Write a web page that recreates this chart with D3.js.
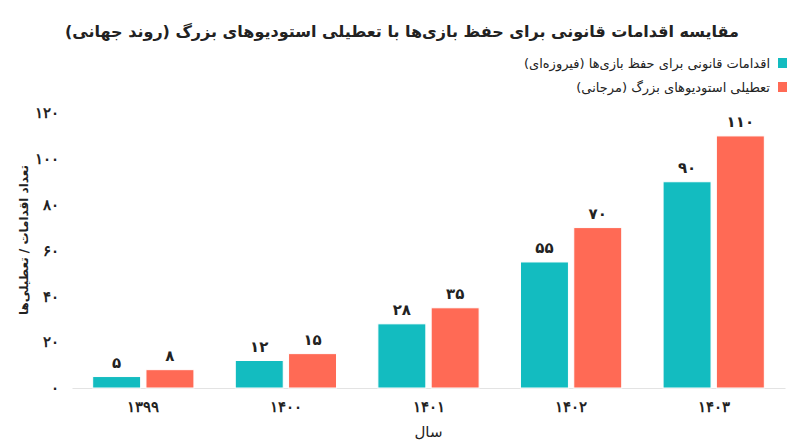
<!DOCTYPE html>
<html>
<head>
<meta charset="utf-8">
<script src="https://cdn.jsdelivr.net/npm/d3@7/dist/d3.min.js"></script>
<style>
  body { margin: 0; background: #fff; }
  svg { font-family: "DejaVu Sans", "Noto Sans", sans-serif; }
</style>
</head>
<body>
<div id="chart"></div>
<script>
//          Chart data
var years = ["۱۳۹۹", "۱۴۰۰", "۱۴۰۱", "۱۴۰۲", "۱۴۰۳"];
var legalActions = [5, 12, 28, 55, 90];
var studioClosures = [8, 15, 35, 70, 110];
var yTicks = [0, 20, 40, 60, 80, 100, 120];
var seriesNames = ["اقدامات قانونی برای حفظ بازی‌ها (فیروزه‌ای)", "تعطیلی استودیوهای بزرگ (مرجانی)"];
var seriesColors = ["#13bcc0", "#ff6a55"];

var w = 800, h = 447;
var margin = {top: 113, right: 15, bottom: 59, left: 72};

function toFa(n) {
    return n.toString().replace(/\d/g, function(d) { return "۰۱۲۳۴۵۶۷۸۹"[+d]; });
}

var svg = d3.select("#chart").append("svg")
    .attr("width", w)
    .attr("height", h);

var x0 = d3.scaleBand()
    .domain(years)
    .range([margin.left, w - margin.right])
    .paddingInner(0.29)
    .paddingOuter(0.145);

var x1 = d3.scaleBand()
    .domain([0, 1])
    .range([0, x0.bandwidth()])
    .paddingInner(0.1);

var y = d3.scaleLinear()
    .domain([0, 120])
    .range([h - margin.bottom, margin.top]);

//          Title
svg.append("text")
    .attr("x", 402)
    .attr("y", 37)
    .attr("text-anchor", "middle")
    .attr("direction", "rtl")
    .style("font-size", "16px")
    .style("font-weight", "bold")
    .style("fill", "#222")
    .text("مقایسه اقدامات قانونی برای حفظ بازی‌ها با تعطیلی استودیوهای بزرگ (روند جهانی)");

//          Legend
var legend = svg.selectAll(".legend").data(seriesNames).enter().append("g")
    .attr("class", "legend")
    .attr("transform", function(d, i) { return "translate(0," + (63 + i * 24) + ")"; });
legend.append("rect")
    .attr("x", 778).attr("y", -5)
    .attr("width", 9).attr("height", 10)
    .style("fill", function(d, i) { return seriesColors[i]; });
legend.append("text")
    .attr("x", 770).attr("y", 5)
    .attr("direction", "rtl")
    .attr("text-anchor", "start")
    .style("font-size", "13px")
    .style("fill", "#222")
    .text(function(d) { return d; });

//          Axes
var yAxis = svg.append("g")
    .attr("transform", "translate(" + margin.left + ",0)")
    .call(d3.axisLeft(y).tickValues(yTicks).tickSize(0).tickPadding(13).tickFormat(toFa));
yAxis.select(".domain").remove();
yAxis.selectAll("text").style("font-size", "15px").style("font-weight", "bold").style("fill", "#222");

var xAxis = svg.append("g")
    .attr("transform", "translate(0," + y(0) + ")")
    .call(d3.axisBottom(x0).tickSize(0).tickPadding(13));
xAxis.select(".domain").style("stroke", "#e3e3e3");
xAxis.selectAll("text").style("font-size", "15px").style("font-weight", "bold").style("fill", "#222");

svg.append("text")
    .attr("x", (margin.left + w - margin.right) / 2)
    .attr("y", 437)
    .attr("text-anchor", "middle")
    .style("font-size", "15px")
    .style("fill", "#222")
    .text("سال");

svg.append("text")
    .attr("transform", "translate(28,240) rotate(-90)")
    .attr("text-anchor", "middle")
    .attr("direction", "rtl")
    .style("font-size", "12px")
    .style("font-weight", "bold")
    .style("fill", "#222")
    .text("تعداد اقدامات / تعطیلی‌ها");

//          Bars
var series = [legalActions, studioClosures];
var groups = svg.selectAll(".group").data(years).enter().append("g")
    .attr("class", "group")
    .attr("transform", function(d) { return "translate(" + x0(d) + ",0)"; });

groups.selectAll("rect").data(function(d, i) { return [0, 1].map(function(s) { return {s: s, v: series[s][i]}; }); })
    .enter().append("rect")
    .attr("x", function(d) { return x1(d.s); })
    .attr("y", function(d) { return y(d.v); })
    .attr("width", x1.bandwidth())
    .attr("height", function(d) { return y(0) - y(d.v); })
    .style("fill", function(d) { return seriesColors[d.s]; })
    .style("stroke", "#fff")
    .style("stroke-width", 1);

groups.selectAll(".val").data(function(d, i) { return [0, 1].map(function(s) { return {s: s, v: series[s][i]}; }); })
    .enter().append("text")
    .attr("class", "val")
    .attr("x", function(d) { return x1(d.s) + x1.bandwidth() / 2; })
    .attr("y", function(d) { return y(d.v) - 9; })
    .attr("text-anchor", "middle")
    .style("font-size", "15px")
    .style("font-weight", "bold")
    .style("fill", "#222")
    .text(function(d) { return toFa(d.v); });
</script>
</body>
</html>
